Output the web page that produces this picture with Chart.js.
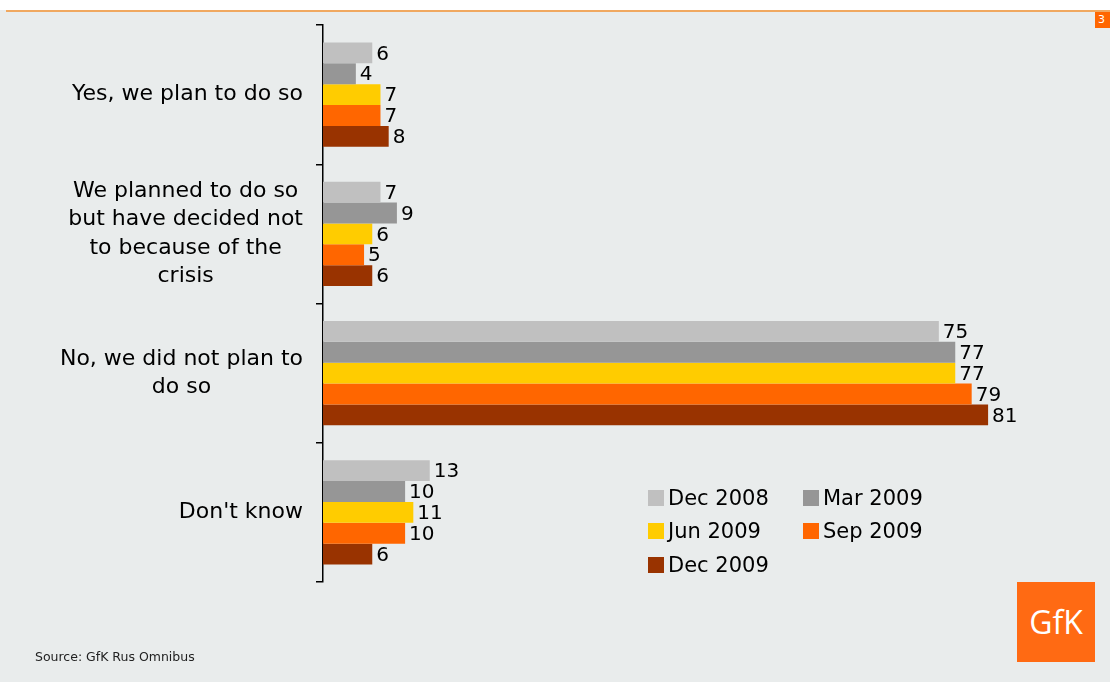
<!DOCTYPE html>
<html lang="en">
<head>
    <meta charset="UTF-8">
    <title>GfK Rus Omnibus</title>
    <script src="https://cdn.jsdelivr.net/npm/chart.js"></script>
    <style>
        body { margin: 0; }
        #page { position: relative; width: 1110px; height: 682px; background: #e9ecec; overflow: hidden; font-family: "DejaVu Sans", Verdana, sans-serif; }
        #topStrip { position: absolute; left: 0; top: 0; width: 1110px; height: 10px; background: #fff; }
        #topLine { position: absolute; left: 6px; top: 10px; width: 1104px; height: 2px; background: #f0a860; }
        #pageNo { position: absolute; left: 1095px; top: 12px; width: 20px; height: 16px; background: #ff6600; color: #fff; font-size: 11px; line-height: 16px; padding-left: 3px; }
        #chartBox { position: absolute; left: 0; top: 0; width: 1110px; height: 682px; }
        #legend { position: absolute; left: 648px; top: 484px; width: 320px; }
        .legItem { position: absolute; font-size: 21px; color: #000; white-space: nowrap; line-height: 28px; }
        .legItem span { display: inline-block; width: 16px; height: 16px; margin-right: 4px; vertical-align: -1px; }
        #source { position: absolute; left: 35px; top: 649px; font-size: 12.5px; color: #222; }
        #logo { position: absolute; left: 1017px; top: 582px; width: 78px; height: 80px; background: #ff6a13; color: #fff; font-family: "Open Sans", sans-serif; font-size: 32px; text-align: center; line-height: 80px; }
    </style>
</head>
<body>
<div id="page">
    <div id="topStrip"></div>
    <div id="topLine"></div>
    <div id="pageNo">3</div>
    <div id="chartBox"><canvas id="chart" width="1110" height="682"></canvas></div>
    <div id="legend"></div>
    <div id="source">Source: GfK Rus Omnibus</div>
    <div id="logo">GfK</div>
</div>
<script>
const categories = [
    ['Yes, we plan to do so'],
    ['We planned to do so', 'but have decided not', 'to because of the', 'crisis'],
    ['No, we did not plan to', 'do so'],
    ["Don't know"]
];
const seriesNames = ['Dec 2008', 'Mar 2009', 'Jun 2009', 'Sep 2009', 'Dec 2009'];
const seriesColors = ['#c0c0c0', '#969696', '#ffcc00', '#ff6600', '#993300'];
const dec2008 = [6, 7, 75, 13];
const mar2009 = [4, 9, 77, 10];
const jun2009 = [7, 6, 77, 11];
const sep2009 = [7, 5, 79, 10];
const dec2009 = [8, 6, 81, 6];
const seriesValues = [dec2008, mar2009, jun2009, sep2009, dec2009];

// legend, 2 columns
const legendPos = [[0, 0], [155, 0], [0, 33], [155, 33], [0, 67]];
const legend = document.getElementById('legend');
seriesNames.forEach((name, i) => {
    const el = document.createElement('div');
    el.className = 'legItem';
    el.style.left = legendPos[i][0] + 'px';
    el.style.top = legendPos[i][1] + 'px';
    el.innerHTML = `<span style="background:${seriesColors[i]}"></span>${name}`;
    legend.appendChild(el);
});

// value labels after each bar
const valueLabels = {
    id: 'valueLabels',
    afterDatasetsDraw(chart) {
        const ctx = chart.ctx;
        ctx.save();
        ctx.font = '20px "DejaVu Sans", Verdana, sans-serif';
        ctx.fillStyle = '#000';
        ctx.textAlign = 'left';
        ctx.textBaseline = 'middle';
        chart.data.datasets.forEach((ds, di) => {
            chart.getDatasetMeta(di).data.forEach((bar, i) => {
                ctx.fillText(ds.data[i], bar.x + 4, bar.y + 1.5);
            });
        });
        ctx.restore();
    }
};

// category labels: block right-aligned, lines centred within block
const categoryLabels = {
    id: 'categoryLabels',
    afterDraw(chart) {
        const ctx = chart.ctx;
        const y = chart.scales.y;
        const lineH = 28.5;
        ctx.save();
        ctx.font = '22px "DejaVu Sans", Verdana, sans-serif';
        ctx.fillStyle = '#000';
        ctx.textAlign = 'center';
        ctx.textBaseline = 'middle';
        categories.forEach((lines, i) => {
            const w = Math.max(...lines.map(l => ctx.measureText(l).width));
            const cx = 303 - w / 2;
            const cy = y.getPixelForValue(i);
            lines.forEach((l, k) => {
                ctx.fillText(l, cx, cy + (k - (lines.length - 1) / 2) * lineH);
            });
        });
        ctx.restore();
    }
};

new Chart(document.getElementById('chart'), {
    type: 'bar',
    data: {
        labels: categories,
        datasets: seriesNames.map((name, i) => ({
            label: name,
            data: seriesValues[i],
            backgroundColor: seriesColors[i],
            borderWidth: 0,
            categoryPercentage: 0.75,
            barPercentage: 1.0
        }))
    },
    options: {
        indexAxis: 'y',
        responsive: false,
        animation: false,
        layout: {padding: {left: 316, top: 25, bottom: 100, right: 48}},
        plugins: {legend: {display: false}, tooltip: {enabled: false}},
        scales: {
            x: {display: false, min: 0, max: 90},
            y: {
                ticks: {display: false},
                grid: {drawOnChartArea: false, drawTicks: true, tickLength: 7, color: '#000', lineWidth: 1.5, offset: true},
                border: {display: true, color: '#000', width: 1.5},
                afterFit: s => { s.width = 7; }
            }
        }
    },
    plugins: [valueLabels, categoryLabels]
});
</script>
</body>
</html>
